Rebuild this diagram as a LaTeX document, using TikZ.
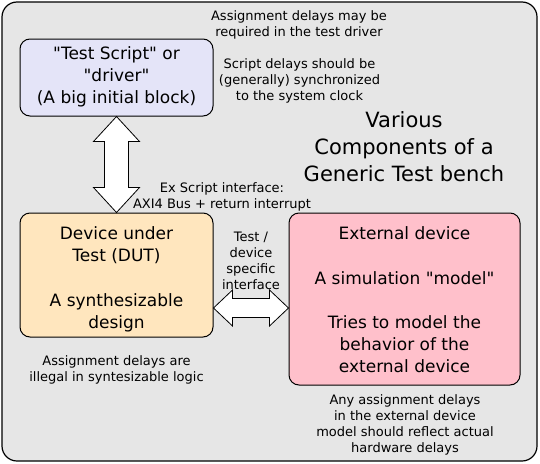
\documentclass[tikz,border=0pt]{standalone}
\usepackage{fontspec}
\setmainfont{DejaVu Sans}[Ligatures=TeXOff]
\usetikzlibrary{calc}
\definecolor{bggray}{RGB}{230,230,230}
\definecolor{lav}{RGB}{228,228,248}
\definecolor{peach}{RGB}{255,230,190}
\definecolor{pinkbox}{RGB}{255,192,203}
\begin{document}
\begin{tikzpicture}[x=1pt,y=-1pt,
  box/.style={draw=black, line width=1pt, rounded corners=10pt, inner sep=0pt},
  boxtext/.style={align=center, inner sep=0pt, font=\fontsize{17}{22.2}\selectfont},
  note/.style={align=center, font=\fontsize{13}{16}\selectfont, inner sep=0pt},
  bigarrow/.style={draw=black, fill=white, line width=0.8pt}]
\useasboundingbox (0,0) rectangle (540,463);
\node[draw=black, line width=1.2pt, fill=bggray, rounded corners=15pt, minimum width=535pt, minimum height=459pt, inner sep=0pt] (frame) at (269.5,231.5) {};
\node[box, fill=lav, minimum width=193pt, minimum height=77pt] (script) at (116.5,77.5) {};
\node[boxtext] (scriptt) at ($(script.center)+(0,-0.5)$) {"Test Script" or\\"driver"\\(A big initial block)};
\node[box, fill=peach, minimum width=193pt, minimum height=124pt] (dut) at (116.5,275) {};
\node[boxtext] (dutt) at ($(dut.center)+(0,4.5)$) {Device under\\Test (DUT)\\[22.2pt]A synthesizable\\design};
\node[box, fill=pinkbox, minimum width=231pt, minimum height=172pt] (ext) at (404.5,299) {};
\node[boxtext] (extt) at ($(ext.center)+(0,1)$) {External device\\[22.2pt]A simulation "model"\\[22.2pt]Tries to model the\\behavior of the\\external device};
\draw[bigarrow] (script.south) -- ++(23,25) -- ++(-11,0) -- ($(dut.north)+(12,-25)$) -- ++(11,0) -- (dut.north) -- ++(-23,-25) -- ++(11,0) -- ($(script.south)+(-12,25)$) -- ++(-11,0) -- cycle;
\coordinate (hl) at ($(dut.east)+(0,33)$);
\coordinate (hr) at (ext.west |- hl);
\draw[bigarrow] (hl) -- ++(19,-18) -- ++(0,8.5) -- ($(hr)+(-19,-9.5)$) -- ++(0,-8.5) -- (hr) -- ++(-19,18) -- ++(0,-8.5) -- ($(hl)+(19,9.5)$) -- ++(0,8.5) -- cycle;
\node[note] (n1) at (299,24.5) {Assignment delays may be\\required in the test driver};
\node[note] (n2) at (299.5,81) {Script delays should be\\(generally) synchronized\\to the system clock};
\node[align=center, inner sep=0pt, font=\fontsize{21}{27}\selectfont] (title) at (404,147) {Various\\Components of a\\Generic Test bench};
\node[note] (ex) at (222,196.7) {Ex Script interface:\\AXI4 Bus + return interrupt};
\node[note] (tdsi) at (251,261) {Test /\\device\\specific\\interface};
\node[note] (dn) at (116.5,370) {Assignment delays are\\illegal in syntesizable logic};
\node[note] (en) at (405,424.5) {Any assignment delays\\in the external device\\model should reflect actual\\hardware delays};
\end{tikzpicture}
\end{document}
